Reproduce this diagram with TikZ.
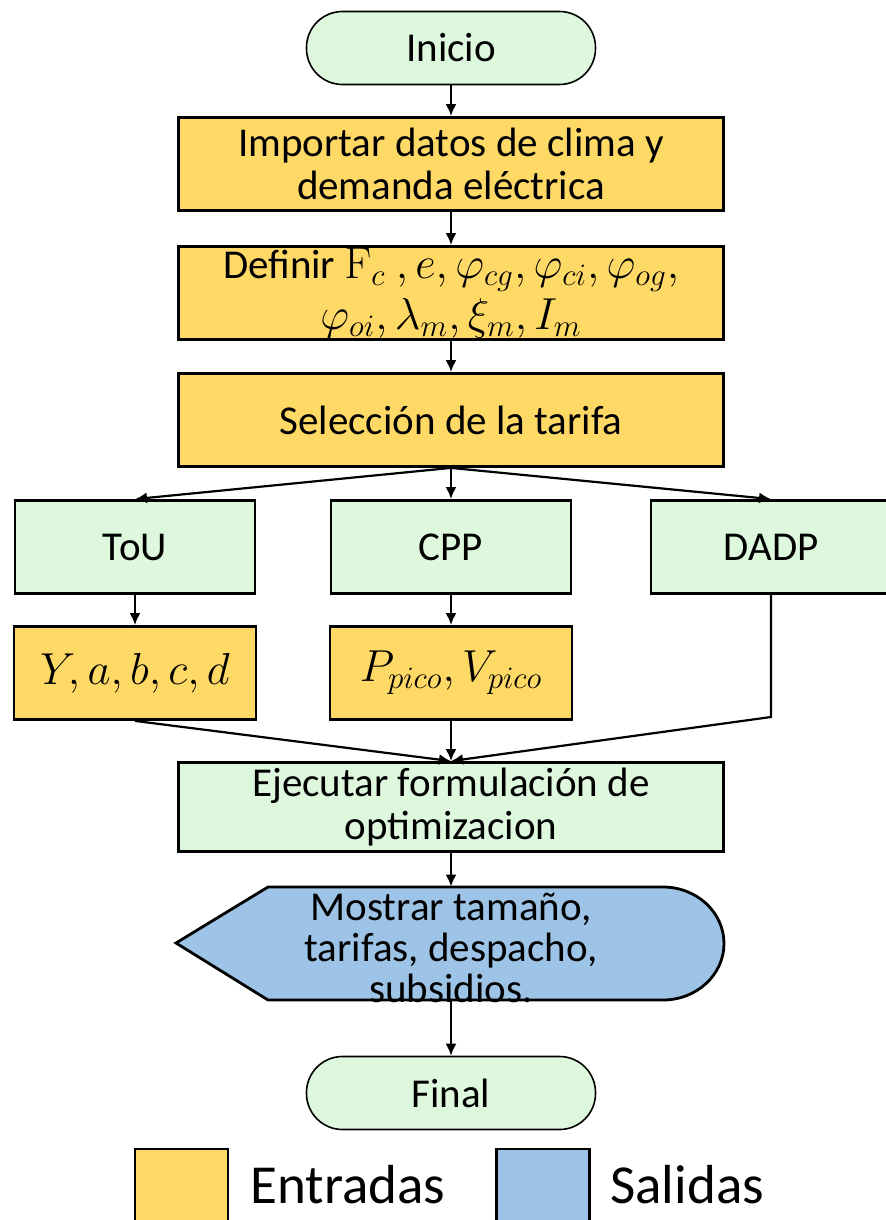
\documentclass[tikz,border=0pt]{standalone}
\usepackage[no-math]{fontspec}
\setmainfont{Carlito}
\usepackage{amsmath}
\usepackage{amsfonts}
\usepackage{tikz}
\usetikzlibrary{arrows.meta}

\definecolor{verdeclaro}{HTML}{DDF8DD}
\definecolor{amarillo}{HTML}{FFD966}
\definecolor{azul}{HTML}{9DC3E6}

\newcommand{\matgrande}[1]{{\fontsize{20.74}{24}\selectfont\scalebox{1.08}{$#1$}}}

\tikzset{
	texto/.style={font=\fontsize{20.5}{21.5}\selectfont, align=center, inner sep=0pt},
	terminal/.style={texto, draw=black, line width=0.8pt, fill=verdeclaro, rounded corners=18pt, minimum width=144.5pt, minimum height=36.5pt},
	entrada/.style={texto, draw=black, line width=1.4pt, fill=amarillo, minimum width=272.5pt, minimum height=46.5pt},
	proceso/.style={texto, draw=black, line width=1.4pt, fill=verdeclaro, minimum width=272.5pt, minimum height=44.5pt},
	tarifa/.style={proceso, minimum width=120pt, minimum height=46.5pt},
	parametro/.style={entrada, minimum width=121pt, minimum height=46.5pt},
	salida/.style={texto, minimum width=272.5pt, minimum height=56.5pt},
	flecha/.style={-{Latex[length=6pt, width=5.5pt]}, line width=1.1pt},
	cuadro/.style={draw=black, line width=1.4pt, minimum width=46.5pt, minimum height=40.5pt, inner sep=0pt},
	leytexto/.style={font=\fontsize{27.5}{33}\selectfont, anchor=base west, inner sep=0pt}
}

\begin{document}
\begin{tikzpicture}[x=0.5pt, y=-0.5pt]
	
	\useasboundingbox (0, 0) rectangle (886, 1220);
	
	\node[terminal] (inicio) at (451, 48)   {Inicio};
	\node[entrada] (importar) at (451, 164) {Importar datos de clima y\\[0.1pt]demanda eléctrica};
	\node[entrada] (definir) at (451, 293)  {Definir \matgrande{\mathrm{F}_c\ ,e, \varphi_{cg}, \varphi_{ci}, \varphi_{og},}\\[2.5pt]\matgrande{\varphi_{oi}, \lambda_m, \xi_m, I_m}};
	\node[entrada] (seleccion) at (451, 420) {Selección de la tarifa};
	
	\node[tarifa] (tou) at (135, 547)   {ToU};
	\node[tarifa] (cpp) at (451, 547)   {CPP};
	\node[tarifa] (dadp) at (771, 547)  {DADP};
	
	\node[parametro] (ytou) at (135, 673)   {\matgrande{Y, a, b, c, d}};
	\node[parametro] (pcpp) at (451, 673)   {\matgrande{P_{pico}, V_{pico}}};
	\coordinate (codo) at (771, 717);
	
	\node[proceso] (ejecutar) at (451, 807) {Ejecutar formulación de\\optimizacion};
	
	\draw[line width=1.4pt, fill=azul] (268, 887) -- (663, 887)
		arc[start angle=90, end angle=-90, x radius=30.5pt, y radius=28.25pt]
		-- (268, 1000) -- (176, 943) -- cycle;
	\node[salida] (mostrar) at (451, 943.5) {};
	\node[texto, font=\fontsize{20.5}{20.5}\selectfont] (mostrartexto) at (451, 948) {Mostrar tamaño,\\tarifas, despacho,\\subsidios.};
	
	\node[terminal] (final) at (451, 1093) {Final};
	
	% leyenda
	\node[cuadro, fill=amarillo] (cuadroent) at (181.5, 1189.5) {};
	\node[leytexto] (entradas) at (250, 1203) {Entradas};
	\node[cuadro, fill=azul] (cuadrosal) at (543, 1189.5) {};
	\node[leytexto] (salidas) at (610, 1203) {Salidas};
	
	\path[flecha] (inicio) edge (importar);
	\path[flecha] (importar) edge (definir);
	\path[flecha] (definir) edge (seleccion);
	\path[flecha] (seleccion.south) edge (tou.north);
	\path[flecha] (seleccion.south) edge (cpp.north);
	\path[flecha] (seleccion.south) edge (dadp.north);
	\path[flecha] (tou) edge (ytou);
	\path[flecha] (cpp) edge (pcpp);
	\path[flecha] (ytou.south) edge (ejecutar.north);
	\path[flecha] (pcpp) edge (ejecutar);
	\draw[flecha] (dadp.south) -- (codo) -- (ejecutar.north);
	\path[flecha] (ejecutar) edge (mostrar);
	\path[flecha] (mostrar) edge (final);

\end{tikzpicture}
\end{document}
